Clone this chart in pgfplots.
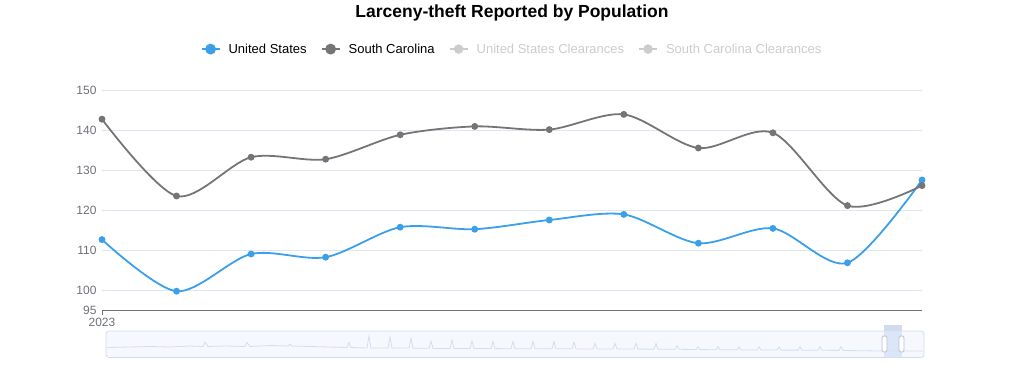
\documentclass[border=0pt]{standalone}
\usepackage{pgfplots}
\pgfplotsset{compat=1.18}
\usepackage{fontspec}
\setmainfont{Liberation Sans}
\definecolor{usblue}{RGB}{59,160,233}
\definecolor{scgray}{RGB}{117,117,117}
\definecolor{faded}{RGB}{204,204,204}
\definecolor{gridc}{RGB}{224,230,241}
\definecolor{axisc}{RGB}{110,112,121}
\definecolor{sliderbg}{RGB}{246,248,253}
\definecolor{sliderbd}{RGB}{210,219,238}
\definecolor{sliderline}{RGB}{212,222,240}
\definecolor{selfill}{RGB}{214,226,248}
\pgfplotstableread{
x us sc
0 112.6 142.7
1 99.7 123.5
2 109.0 133.2
3 108.2 132.7
4 115.7 138.8
5 115.2 140.9
6 117.5 140.1
7 118.9 143.9
8 111.7 135.5
9 115.4 139.3
10 106.8 121.1
11 127.5 126.1
}\datatable
\begin{document}
\begin{tikzpicture}[x=1pt,y=1pt]
\path[use as bounding box] (0,0) rectangle (1024,365);
\node[font=\fontsize{17.5}{20}\selectfont\bfseries, text=black] at (512,352) {Larceny-theft Reported by Population};
\begin{axis}[
  at={(102pt,55pt)}, anchor=south west,
  scale only axis, width=820pt, height=220pt,
  xmin=0, xmax=11, ymin=95, ymax=150,
  clip=false,
  axis y line*=left, y axis line style={draw=none},
  axis x line*=bottom, x axis line style={draw=axisc, line width=1pt},
  xtick={0}, xticklabels={2023},
  ytick={95,100,110,120,130,140,150},
  major tick length=5pt,
  x tick style={draw=axisc, line width=1pt},
  xtick align=outside,
  y tick style={draw=none},
  ymajorgrids, grid style={draw=gridc, line width=0.8pt},
  tick label style={font=\fontsize{12}{14}\selectfont, text=axisc},
  /pgf/number format/assume math mode=true,
  yticklabel style={xshift=-2pt},
  xticklabel style={yshift=0pt},
  legend style={at={(0.5,1.186)}, anchor=center, draw=none, fill=none,
    legend columns=4, font=\fontsize{13}{15}\selectfont,
    /tikz/every odd column/.append style={column sep=6pt},
    /tikz/every even column/.append style={column sep=12pt}},
  legend cell align=left,
  legend image code/.code={\draw[line width=2pt] (0pt,0pt) -- (18pt,0pt); \fill (9pt,0pt) circle (4.5pt);},
]
\addplot[usblue, line width=1.8pt, smooth, tension=0.5, mark=*, mark size=2.5pt, mark options={fill=usblue, draw=usblue}] table[x=x,y=us] {\datatable};
\addlegendentry{United States}
\addplot[scgray, line width=1.8pt, smooth, tension=0.5, mark=*, mark size=2.5pt, mark options={fill=scgray, draw=scgray}] table[x=x,y=sc] {\datatable};
\addlegendentry{South Carolina}
\addlegendimage{faded}
\addlegendentry{\textcolor{faded}{United States Clearances}}
\addlegendimage{faded}
\addlegendentry{\textcolor{faded}{South Carolina Clearances}}
\end{axis}
% data zoom slider
\draw[sliderbd, fill=sliderbg, rounded corners=3pt, line width=0.8pt] (106,7.5) rectangle (924,34);
\begin{axis}[
  at={(106pt,7pt)}, anchor=south west,
  scale only axis, width=818pt, height=26pt,
  hide axis, xmin=106, xmax=924, ymin=0, ymax=26,
]
\addplot[sliderline, line width=0.8pt] coordinates {
(107,10.5)(130,11)(150,11.5)(170,11)(190,12)(203,11.5)(205,16)(208,11.5)(225,12)(245,11.5)(247,15.5)(250,11.5)(270,12.5)(288,12)(290,14)(292,12)(310,11.5)(330,11)(347,10.5)(349,15.5)(351,10.5)
(367,10)(369,22)(371,10)
(388,10)(390,21)(392,10)
(409,10)(411,19.7)(413,9.8)
(429,9.8)(431,17)(433,9.6)
(450,9.6)(452,17.7)(454,9.5)
(470,9.5)(472,17)(474,9.5)
(491,9.4)(493,16.3)(495,9.4)
(511,9.3)(513,16.3)(515,9.3)
(531,9.3)(533,16.3)(535,9.2)
(552,9.2)(554,16.3)(556,9.2)
(572,9.2)(574,16)(576,9.1)
(593,9.1)(595,14.7)(597,9.1)
(613,9.0)(615,14.7)(617,9.0)
(634,9.0)(636,14.7)(638,8.9)
(654,8.9)(656,14.5)(658,8.8)
(675,8.8)(677,12.3)(679,8.7)
(696,8.5)(698,11.3)(700,8.4)
(716,8.3)(718,11.3)(720,8.2)
(737,8.2)(739,11.3)(741,8.1)
(757,8)(759,11.3)(761,8)
(777,8)(779,11.3)(781,7.9)
(798,7.9)(800,11.3)(802,7.8)
(818,7.8)(820,11.3)(822,7.7)
(839,7.6)(841,11.3)(843,7.5)
(860,7.3)(880,7.0)(923,7.0)
};
\end{axis}
\fill[selfill, opacity=0.8] (884,7.5) rectangle (902,40);
\fill[sliderbd] (884,34) rectangle (902,40);
\draw[sliderbd!70!gray, fill=white, rounded corners=1.5pt, line width=0.8pt] (882,13) rectangle (887,29);
\draw[sliderbd!70!gray, fill=white, rounded corners=1.5pt, line width=0.8pt] (899,13) rectangle (904,29);
\end{tikzpicture}
\end{document}
